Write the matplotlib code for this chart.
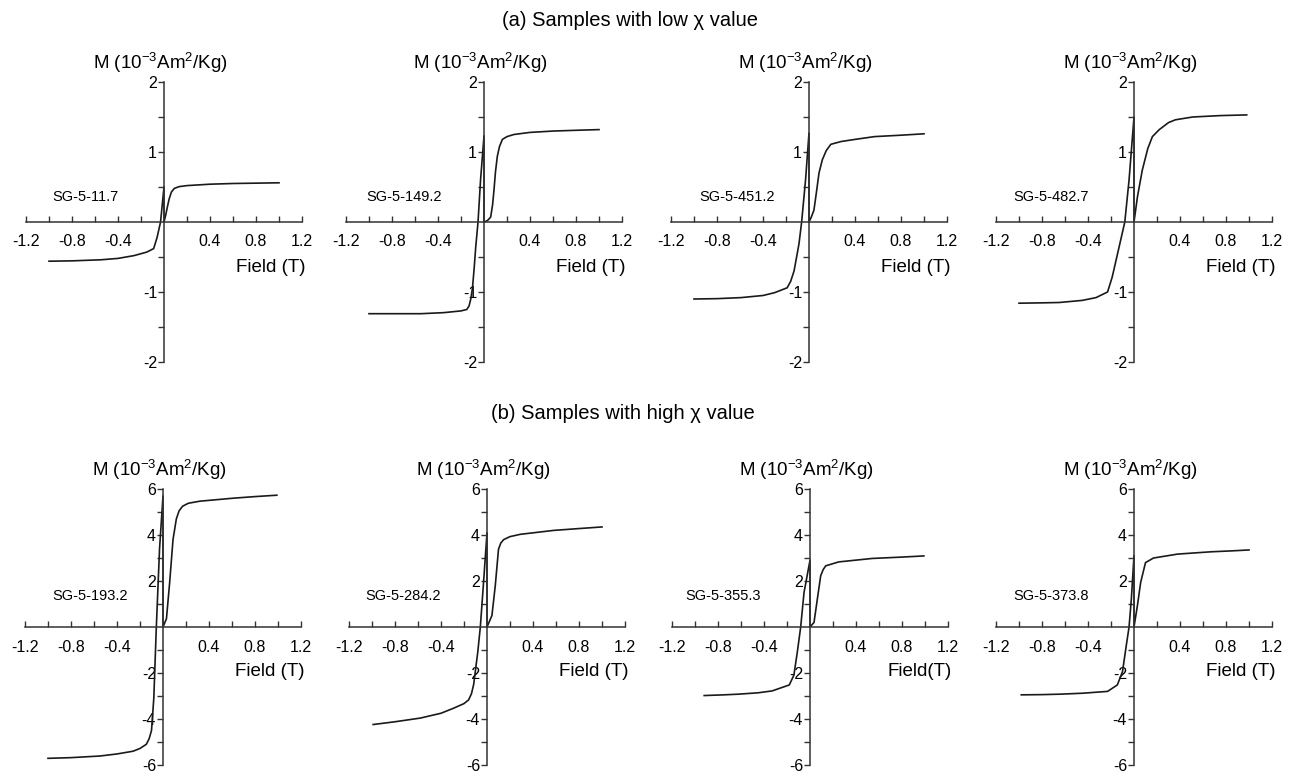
import matplotlib
matplotlib.use('Agg')
import matplotlib.pyplot as plt

plt.rcParams['font.family'] = ['Liberation Sans', 'DejaVu Sans']
plt.rcParams['mathtext.fontset'] = 'custom'
plt.rcParams['mathtext.rm'] = 'Liberation Sans'
plt.rcParams['mathtext.it'] = 'Liberation Sans:italic'
plt.rcParams['axes.unicode_minus'] = False

# ---- data: field (T) vs M (10^-3 Am2/Kg) ----
# (a) low chi samples
field_117 = [-1.0, -0.8, -0.55, -0.4, -0.26, -0.15, -0.09, -0.06, -0.03, -0.015, 0.0, 0.0,
             0.015, 0.03, 0.045, 0.065, 0.09, 0.13, 0.2, 0.4, 0.6, 0.8, 1.0]
m_117 = [-0.56, -0.555, -0.54, -0.52, -0.48, -0.43, -0.38, -0.22, 0.0, 0.25, 0.5, 0.0,
         0.1, 0.22, 0.33, 0.43, 0.48, 0.505, 0.52, 0.54, 0.55, 0.555, 0.56]

field_1492 = [-1.0, -0.8, -0.55, -0.35, -0.2, -0.15, -0.13, -0.115, -0.10, -0.085, -0.072, -0.052,
              -0.03, 0.0, 0.0, 0.03, 0.058, 0.075, 0.087, 0.1, 0.116, 0.135, 0.16, 0.2, 0.26, 0.4,
              0.61, 0.8, 1.0]
m_1492 = [-1.31, -1.31, -1.31, -1.295, -1.27, -1.25, -1.2, -1.1, -0.94, -0.65, -0.36, 0.0,
          0.6, 1.23, 0.0, 0.02, 0.07, 0.25, 0.46, 0.72, 0.94, 1.08, 1.18, 1.22, 1.25, 1.28,
          1.30, 1.31, 1.32]

field_4512 = [-1.0, -0.8, -0.59, -0.4, -0.3, -0.19, -0.16, -0.13, -0.11, -0.087, -0.064, -0.03,
              0.0, 0.0, 0.02, 0.043, 0.065, 0.087, 0.116, 0.15, 0.19, 0.28, 0.4, 0.57, 0.8, 1.0]
m_4512 = [-1.10, -1.095, -1.08, -1.05, -1.01, -0.94, -0.85, -0.70, -0.52, -0.31, 0.0, 0.6,
          1.27, 0.0, 0.07, 0.17, 0.43, 0.70, 0.89, 1.02, 1.11, 1.15, 1.18, 1.22, 1.24, 1.26]

field_4827 = [-1.0, -0.8, -0.65, -0.45, -0.33, -0.23, -0.19, -0.13, -0.08, -0.043, 0.0, 0.0,
              0.03, 0.072, 0.12, 0.16, 0.22, 0.3, 0.36, 0.51, 0.75, 0.98]
m_4827 = [-1.16, -1.155, -1.15, -1.12, -1.08, -1.0, -0.79, -0.36, 0.0, 0.6, 1.5, 0.0,
          0.36, 0.74, 1.05, 1.22, 1.32, 1.42, 1.46, 1.50, 1.52, 1.53]

# (b) high chi samples
field_1932 = [-1.0, -0.8, -0.55, -0.4, -0.26, -0.2, -0.145, -0.12, -0.1, -0.08, -0.058, -0.03,
              0.0, 0.0, 0.03, 0.058, 0.087, 0.116, 0.14, 0.17, 0.22, 0.32, 0.61, 0.8, 0.99]
m_1932 = [-5.71, -5.68, -5.61, -5.52, -5.4, -5.28, -5.1, -4.85, -4.5, -3.1, 0.0, 3.4,
          5.7, 0.0, 0.36, 1.94, 3.8, 4.7, 5.05, 5.25, 5.38, 5.47, 5.6, 5.67, 5.73]

field_2842 = [-0.99, -0.8, -0.58, -0.4, -0.29, -0.2, -0.16, -0.135, -0.116, -0.08, -0.058, -0.03,
              0.0, 0.0, 0.043, 0.072, 0.1, 0.12, 0.145, 0.2, 0.29, 0.58, 0.8, 1.0]
m_2842 = [-4.24, -4.12, -3.96, -3.75, -3.53, -3.33, -3.17, -2.9, -2.5, -1.08, 0.0, 1.94,
          4.1, 0.0, 0.5, 1.8, 3.38, 3.65, 3.8, 3.93, 4.03, 4.2, 4.28, 4.35]

field_3553 = [-0.92, -0.75, -0.62, -0.45, -0.33, -0.18, -0.14, -0.11, -0.081, -0.052, 0.0, 0.0,
              0.035, 0.064, 0.093, 0.115, 0.137, 0.25, 0.54, 0.8, 0.99]
m_3553 = [-2.98, -2.95, -2.92, -2.86, -2.78, -2.52, -2.09, -1.08, 0.0, 1.5, 2.9, 0.0,
          0.2, 1.22, 2.23, 2.5, 2.66, 2.83, 2.98, 3.04, 3.09]

field_3738 = [-0.98, -0.8, -0.64, -0.45, -0.23, -0.145, -0.1, -0.067, -0.043, -0.023, 0.0, 0.0,
              0.03, 0.058, 0.1, 0.17, 0.38, 0.67, 0.85, 1.0]
m_3738 = [-2.95, -2.94, -2.92, -2.88, -2.8, -2.52, -1.94, -0.8, 0.0, 1.22, 3.1, 0.0,
          0.94, 1.94, 2.8, 3.0, 3.17, 3.27, 3.31, 3.35]

samples_a = ['SG-5-11.7', 'SG-5-149.2', 'SG-5-451.2', 'SG-5-482.7']
samples_b = ['SG-5-193.2', 'SG-5-284.2', 'SG-5-355.3', 'SG-5-373.8']
curves_a = [(field_117, m_117), (field_1492, m_1492), (field_4512, m_4512), (field_4827, m_4827)]
curves_b = [(field_1932, m_1932), (field_2842, m_2842), (field_3553, m_3553), (field_3738, m_3738)]
xlabels_a = ['Field (T)'] * 4
xlabels_b = ['Field (T)', 'Field (T)', 'Field(T)', 'Field (T)']

x_major = [-1.2, -0.8, -0.4, 0.4, 0.8, 1.2]
x_major_labels = ['-1.2', '-0.8', '-0.4', '0.4', '0.8', '1.2']
x_minor = [-1.0, -0.6, -0.2, 0.2, 0.6, 1.0]
y_major_a = [-2, -1, 1, 2]
y_labels_a = ['-2', '-1', '1', '2']
y_minor_a = [-1.5, -0.5, 0.5, 1.5]
y_major_b = [-6, -4, -2, 2, 4, 6]
y_labels_b = ['-6', '-4', '-2', '2', '4', '6']
y_minor_b = [-5, -3, -1, 1, 3, 5]

ylabel = r'M (10$^{-3}$Am$^{2}$/Kg)'

# ---- layout ----
W, H = 1299, 774
fig = plt.figure(figsize=(W / 100, H / 100), dpi=100)

lefts_a = [26, 346, 671, 996]
lefts_b = [25, 349, 672, 996]
label_x_a = [0.094, 0.072, 0.101, 0.062]
label_x_b = [0.098, 0.058, 0.047, 0.062]
axw = 276


def make_panel(left, top_px, bot_px, fx, my, lim, ymaj, ylab, ymin, name, name_x, name_y, xlab):
    ax = fig.add_axes([left / W, 1 - bot_px / H, axw / W, (bot_px - top_px) / H])
    ax.plot(fx, my, color='#1a1a1a', lw=1.2, clip_on=False)
    ax.set_xlim(-1.2, 1.2)
    ax.set_ylim(-lim, lim)
    for s in ['top', 'right']:
        ax.spines[s].set_visible(False)
    ax.spines['left'].set_position('zero')
    ax.spines['bottom'].set_position('zero')
    for s in ['left', 'bottom']:
        ax.spines[s].set_color('#333333')
        ax.spines[s].set_linewidth(1.1)
    ax.set_xticks(x_major, x_major_labels)
    ax.set_xticks(x_minor, minor=True)
    ax.set_yticks(ymaj, ylab)
    ax.set_yticks(ymin, minor=True)
    ax.tick_params(axis='x', which='both', direction='in', length=4, width=1,
                   color='#333333', labelsize=11.5, pad=9)
    ax.tick_params(axis='y', which='both', direction='out', length=4, width=1,
                   color='#333333', labelsize=11.5, pad=1)
    ax.text(0.5 - 4 / axw, 1.068, ylabel, transform=ax.transAxes, ha='center',
            va='center', fontsize=13.5)
    ax.text(1.012, 0.338, xlab, transform=ax.transAxes, ha='right', va='center',
            fontsize=13.5)
    ax.text(name_x, name_y, name, transform=ax.transAxes, ha='left', va='center',
            fontsize=10.5)
    ax.patch.set_visible(False)
    return ax


for i in range(4):
    make_panel(lefts_a[i], 82, 362, curves_a[i][0], curves_a[i][1], 2, y_major_a, y_labels_a,
               y_minor_a, samples_a[i], label_x_a[i], 0.59, xlabels_a[i])
    make_panel(lefts_b[i], 489, 765, curves_b[i][0], curves_b[i][1], 6, y_major_b, y_labels_b,
               y_minor_b, samples_b[i], label_x_b[i], 0.612, xlabels_b[i])

fig.text(630 / W, 1 - 20 / H, '(a) Samples with low χ value', ha='center', va='center', fontsize=14.5)
fig.text(623 / W, 1 - 414 / H, '(b) Samples with high χ value', ha='center', va='center', fontsize=14.5)

fig.savefig('out.png', dpi=100)
